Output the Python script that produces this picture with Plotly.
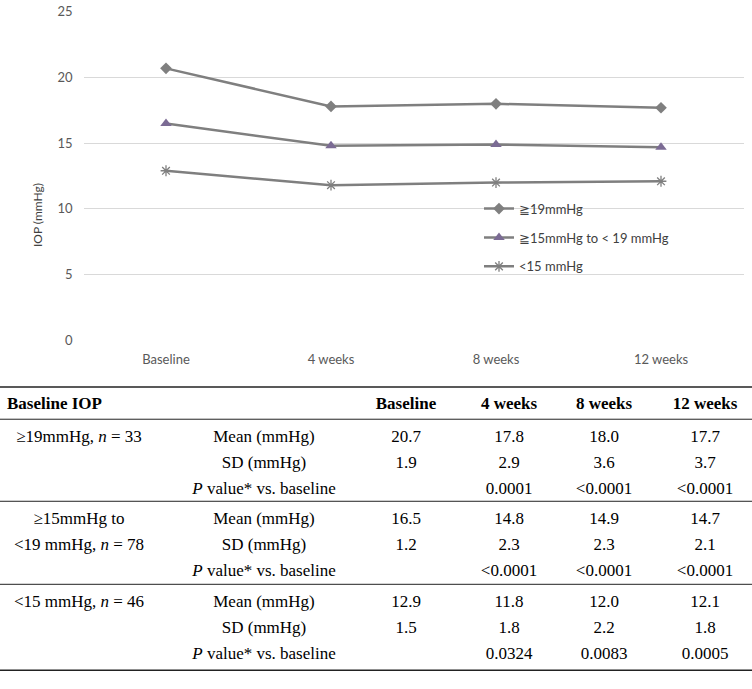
import plotly.graph_objects as go

W, H = 752, 689

# chart data
visits = ["Baseline", "4 weeks", "8 weeks", "12 weeks"]
series_names = ["≧19mmHg", "≧15mmHg to < 19 mmHg", "<15 mmHg"]
mean_high = [20.7, 17.8, 18.0, 17.7]
mean_mid = [16.5, 14.8, 14.9, 14.7]
mean_low = [12.9, 11.8, 12.0, 12.1]

# table data
sd_high = [1.9, 2.9, 3.6, 3.7]
sd_mid = [1.2, 2.3, 2.3, 2.1]
sd_low = [1.5, 1.8, 2.2, 1.8]
p_high = ["", "0.0001", "<0.0001", "<0.0001"]
p_mid = ["", "<0.0001", "<0.0001", "<0.0001"]
p_low = ["", "0.0324", "0.0083", "0.0005"]
group_labels = [["≥19mmHg, <i>n</i> = 33"],
                ["≥15mmHg to", "<19 mmHg, <i>n</i> = 78"],
                ["<15 mmHg, <i>n</i> = 46"]]
stat_labels = ["Mean (mmHg)", "SD (mmHg)", "<i>P</i> value* vs. baseline"]
header_first = "Baseline IOP"

means = [mean_high, mean_mid, mean_low]
sds = [sd_high, sd_mid, sd_low]
pvals = [p_high, p_mid, p_low]

GRAY = "#7f7f7f"
styles = [
    dict(symbol="diamond", size=9, color=GRAY, line=dict(width=0)),
    dict(symbol="triangle-up", size=10, color="#7b6b94", line=dict(width=0)),
    dict(symbol="asterisk-open", size=9, color=GRAY, line=dict(width=1.3, color=GRAY)),
]

fig = go.Figure()
for i, (name, vals) in enumerate(zip(series_names, means)):
    fig.add_trace(go.Scatter(
        x=visits, y=vals, name=name, mode="lines+markers",
        line=dict(color=GRAY, width=2.5), marker=styles[i],
        legendgroup=str(i), xaxis="x", yaxis="y",
    ))

# ---- table, drawn on a pixel-like axis pair (x2, y2)
col_x = [79, 264, 406, 509, 604, 705]
header_y = 406
group_top = [421, 505, 590]
row_off = [19, 45.5, 72]
group_h = 88

tx, ty, tt = [], [], []
for g in range(3):
    for r in range(3):
        y = group_top[g] + row_off[r]
        if r < len(group_labels[g]):
            tx.append(col_x[0]); ty.append(y); tt.append(group_labels[g][r])
        tx.append(col_x[1]); ty.append(y); tt.append(stat_labels[r])
        for c in range(4):
            if r == 0:
                s = f"{means[g][c]:.1f}"
            elif r == 1:
                s = f"{sds[g][c]:.1f}"
            else:
                s = pvals[g][c]
            tx.append(col_x[2 + c]); ty.append(y); tt.append(s)

serif = dict(family="Liberation Serif", size=17, color="black")
fig.add_trace(go.Scatter(x=tx, y=ty, text=tt, mode="text", textposition="middle center",
                         textfont=serif, xaxis="x2", yaxis="y2", showlegend=False,
                         hoverinfo="skip"))
fig.add_trace(go.Scatter(x=[7], y=[header_y], text=[f"<b>{header_first}</b>"], mode="text",
                         textposition="middle right", textfont=serif, xaxis="x2", yaxis="y2",
                         showlegend=False, hoverinfo="skip"))
fig.add_trace(go.Scatter(x=col_x[2:], y=[header_y] * 4, text=[f"<b>{v}</b>" for v in visits],
                         mode="text", textposition="middle center", textfont=serif,
                         xaxis="x2", yaxis="y2", showlegend=False, hoverinfo="skip"))

rules = [(388, 1.6), (group_top[0], 1)] + [(t, 1) for t in group_top[1:]] \
    + [(group_top[-1] + group_h, 1.6)]
for y, w in rules:
    fig.add_shape(type="line", xref="x2 domain", yref="y2", x0=0, x1=1, y0=y, y1=y,
                  line=dict(color="#222222", width=w))

fig.add_annotation(text="IOP (mmHg)", textangle=-90, x=37 / W, y=1 - 212 / H,
                   xref="paper", yref="paper", xanchor="center", yanchor="middle",
                   showarrow=False, font=dict(family="Lato", size=12, color="#404040"))

fig.update_layout(
    width=W, height=H, margin=dict(l=0, r=0, t=0, b=0),
    paper_bgcolor="white", plot_bgcolor="white",
    font=dict(family="Lato", size=13, color="#595959"),
    xaxis=dict(type="category", range=[-0.5, 3.5], domain=[83.5 / W, 743.5 / W],
               showgrid=False, showline=False, zeroline=False, ticks="",
               ticklabelstandoff=10),
    yaxis=dict(range=[0, 25], domain=[1 - 340 / H, 1 - 4 / H], dtick=5,
               gridcolor="#d9d9d9", gridwidth=1, zeroline=False, showline=False,
               ticks="", ticklabelstandoff=10, ticklabeloverflow="allow"),
    xaxis2=dict(range=[0, W], domain=[0, 1], anchor="y2", visible=False, fixedrange=True),
    yaxis2=dict(range=[H, 378], domain=[0, 1 - 378 / H], anchor="x2", visible=False,
                fixedrange=True),
    legend=dict(x=479 / W, y=1 - 190 / H, xanchor="left", yanchor="top",
                bgcolor="rgba(0,0,0,0)", tracegroupgap=9,
                font=dict(family="Lato", size=13, color="#404040")),
    hovermode=False,
)

fig.write_html(
    "out.html",
    config={"displayModeBar": False},
    post_script="document.body.style.margin='0';"
                "document.body.style.overflow='hidden';"
                "document.documentElement.style.overflow='hidden';",
)
